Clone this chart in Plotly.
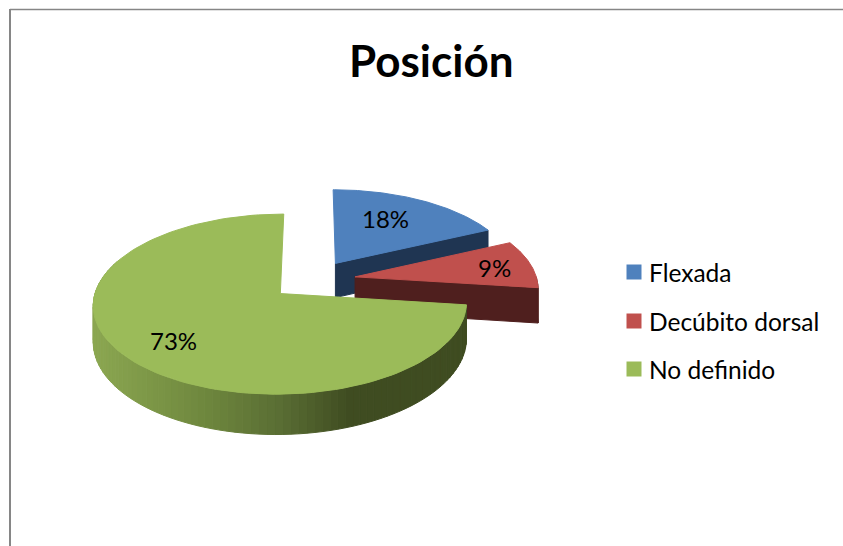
import numpy as np
import plotly.graph_objects as go

labels = ["Flexada", "Decúbito dorsal", "No definido"]
values = [18, 9, 73]
top_colors = ["#4f81bd", "#c0504d", "#9bbb59"]
side_colors = ["#1f3552", "#4f1f1e", "#404c21"]

# shading of the green wall, from the dark right side to the lit left side
wall_x = [92, 200, 280, 350, 470]
wall_r = [140, 112, 90, 63, 64]
wall_g = [168, 137, 110, 76, 77]
wall_b = [82, 63, 52, 33, 34]

# projection of the tilted pie, fitted by eye
CX, CY = 313, 280
W, H = 182, 745
HORIZON = CY - H
PERSP = 0.115
EXPLODE = 0.235
DEPTH = 35


def project(theta, r, mid, depth=0.0):
    # theta in degrees clockwise from 12 o'clock, mid is the slice bisector
    gx = r * np.sin(np.radians(theta)) + EXPLODE * np.sin(np.radians(mid))
    gz = r * np.cos(np.radians(theta)) + EXPLODE * np.cos(np.radians(mid))
    s = 1 / (1 + PERSP * gz)
    return CX + W * gx * s, HORIZON + (H + depth) * s


def poly(xs, ys, color):
    return go.Scatter(x=xs, y=ys, mode="lines", fill="toself", fillcolor=color,
                      line=dict(color=color, width=1), hoverinfo="skip", showlegend=False)


def top_face(start, end, color):
    mid = (start + end) / 2
    th = np.linspace(start, end, 120)
    ax, ay = project(start, 0.0, mid)
    ex, ey = project(th, 1.0, mid)
    return poly(np.r_[ax, ex, ax], np.r_[ay, ey, ay], color)


def radial_wall(angle, start, end, color):
    mid = (start + end) / 2
    ax, ay = project(angle, 0.0, mid)
    ex, ey = project(angle, 1.0, mid)
    bx, by = project(angle, 1.0, mid, DEPTH)
    cx, cy = project(angle, 0.0, mid, DEPTH)
    return poly([ax, ex, bx, cx, ax], [ay, ey, by, cy, ay], color)


def outer_wall(start, end, mid, color):
    th = np.linspace(start, end, 20)
    tx, ty = project(th, 1.0, mid)
    bx, by = project(th, 1.0, mid, DEPTH)
    return poly(np.r_[tx, bx[::-1], tx[0]], np.r_[ty, by[::-1], ty[0]], color)


angles = np.r_[0, np.cumsum(values)] / sum(values) * 360
fig = go.Figure()

# blue slice
fig.add_trace(radial_wall(angles[1], angles[0], angles[1], side_colors[0]))
fig.add_trace(top_face(angles[0], angles[1], top_colors[0]))

# red slice
red_mid = (angles[1] + angles[2]) / 2
fig.add_trace(radial_wall(angles[2], angles[1], angles[2], side_colors[1]))
fig.add_trace(outer_wall(90, angles[2], red_mid, side_colors[1]))
fig.add_trace(top_face(angles[1], angles[2], top_colors[1]))

# green slice, wall cut in strips for the gradient
green_mid = (angles[2] + angles[3]) / 2
steps = np.linspace(angles[2], 292, 90)
for a, b in zip(steps[:-1], steps[1:]):
    px, _ = project((a + b) / 2, 1.0, green_mid, DEPTH)
    color = "rgb(%d,%d,%d)" % (np.interp(px, wall_x, wall_r),
                               np.interp(px, wall_x, wall_g),
                               np.interp(px, wall_x, wall_b))
    fig.add_trace(outer_wall(a, b, green_mid, color))
fig.add_trace(top_face(angles[2], angles[3], top_colors[2]))

font = "Lato"
pct_pos = [(385, 218), (494, 267), (173, 340)]
for v, (x, y) in zip(values, pct_pos):
    fig.add_annotation(x=x, y=y, text=f"{v}%", showarrow=False,
                       font=dict(family=font, size=24, color="black"))

fig.add_annotation(x=431, y=60, text="<b>Posición</b>", showarrow=False,
                   font=dict(family=font, size=44, color="black"))

# legend
legend_y = [272, 321, 369]
fig.add_trace(go.Scatter(x=[634] * 3, y=legend_y, mode="markers", hoverinfo="skip", showlegend=False,
                         marker=dict(symbol="square", size=15, color=top_colors, line=dict(width=0))))
for name, y in zip(labels, legend_y):
    fig.add_annotation(x=647, y=y, text=name, showarrow=False, xanchor="left",
                       font=dict(family=font, size=24.5, color="black"))

# chart frame, only the top and left edges are in the crop
fig.add_shape(type="line", x0=10, x1=843, y0=9.5, y1=9.5, line=dict(color="#868686", width=1.5))
fig.add_shape(type="line", x0=10, x1=10, y0=9, y1=546, line=dict(color="#868686", width=2))

fig.update_layout(
    width=843,
    height=546,
    margin=dict(l=0, r=0, t=0, b=0),
    paper_bgcolor="white",
    plot_bgcolor="white",
    showlegend=False,
    xaxis=dict(range=[0, 843], visible=False, fixedrange=True),
    yaxis=dict(range=[546, 0], visible=False, fixedrange=True),
)

fig.write_html("out.html", post_script="document.body.style.margin='0';", config=dict(displayModeBar=False))
